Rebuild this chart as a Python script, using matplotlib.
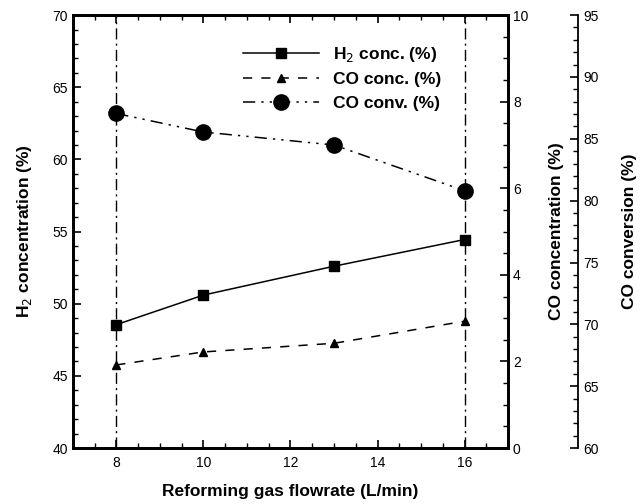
import matplotlib
matplotlib.use("Agg")
import matplotlib.pyplot as plt
from matplotlib.ticker import MultipleLocator

plt.rcParams['font.family'] = ['Liberation Sans', 'DejaVu Sans']

flowrate = [8, 10, 13, 16]
h2_conc = [48.55, 50.6, 52.6, 54.45]
co_conc = [1.92, 2.22, 2.42, 2.93]
co_conv = [87.05, 85.55, 84.5, 80.8]

fig = plt.figure(figsize=(6.44, 5.04), dpi=100)
ax = fig.add_axes([0.113, 0.111, 0.676, 0.859])
ax2 = ax.twinx()
ax3 = ax.twinx()

l1, = ax.plot(flowrate, h2_conc, '-', color='black', marker='s', markersize=7, lw=1.1,
              label='H$_2$ conc. (%)')
l2, = ax2.plot(flowrate, co_conc, color='black', ls=(0, (6, 6)), marker='^', markersize=6, lw=1.1,
               label='CO conc. (%)')
l3, = ax3.plot(flowrate, co_conv, color='black', ls=(0, (8, 4, 1.5, 4, 1.5, 4)), marker='o',
               markersize=11, lw=1.1, label='CO conv. (%)')

for xv in (8, 16):
    ax.axvline(xv, color='black', ls=(0, (8, 3, 1.5, 3)), lw=1.0)

ax.set_xlim(7, 17)
ax.set_ylim(40, 70)
ax2.set_ylim(0, 10)
ax3.set_ylim(60, 95)

ax.xaxis.set_major_locator(MultipleLocator(2))
ax.xaxis.set_minor_locator(MultipleLocator(0.5))
ax.yaxis.set_major_locator(MultipleLocator(5))
ax.yaxis.set_minor_locator(MultipleLocator(1))
ax2.yaxis.set_major_locator(MultipleLocator(2))
ax2.yaxis.set_minor_locator(MultipleLocator(0.5))
ax3.yaxis.set_major_locator(MultipleLocator(5))
ax3.yaxis.set_minor_locator(MultipleLocator(1))

for a in (ax, ax2, ax3):
    a.tick_params(axis='both', which='both', direction='in', labelsize=10)
    a.tick_params(which='major', length=6, width=1.2)
    a.tick_params(which='minor', length=3.5, width=1.0)
ax.tick_params(axis='x', which='both', top=True, pad=6)

for s in ax.spines.values():
    s.set_linewidth(2)
for s in ax2.spines.values():
    s.set_linewidth(2)
ax3.spines['right'].set_position(('axes', 1.161))
ax3.spines['right'].set_linewidth(1.3)
for k in ('top', 'bottom', 'left'):
    ax3.spines[k].set_visible(False)

lab = dict(fontsize=12.5, fontweight='bold')
ax.set_xlabel('Reforming gas flowrate (L/min)', labelpad=10, **lab)
ax.set_ylabel('H$_2$ concentration (%)', labelpad=13, **lab)
ax2.set_ylabel('CO concentration (%)', labelpad=15, **lab)
ax3.set_ylabel('CO conversion (%)', labelpad=17, **lab)

leg = ax.legend(handles=[l1, l2, l3], loc='upper left', bbox_to_anchor=(0.355, 0.968),
                frameon=False, handlelength=4.4, labelspacing=0.5, handletextpad=0.8,
                prop={'weight': 'bold', 'size': 12.5})

fig.savefig('out.png', dpi=100)
